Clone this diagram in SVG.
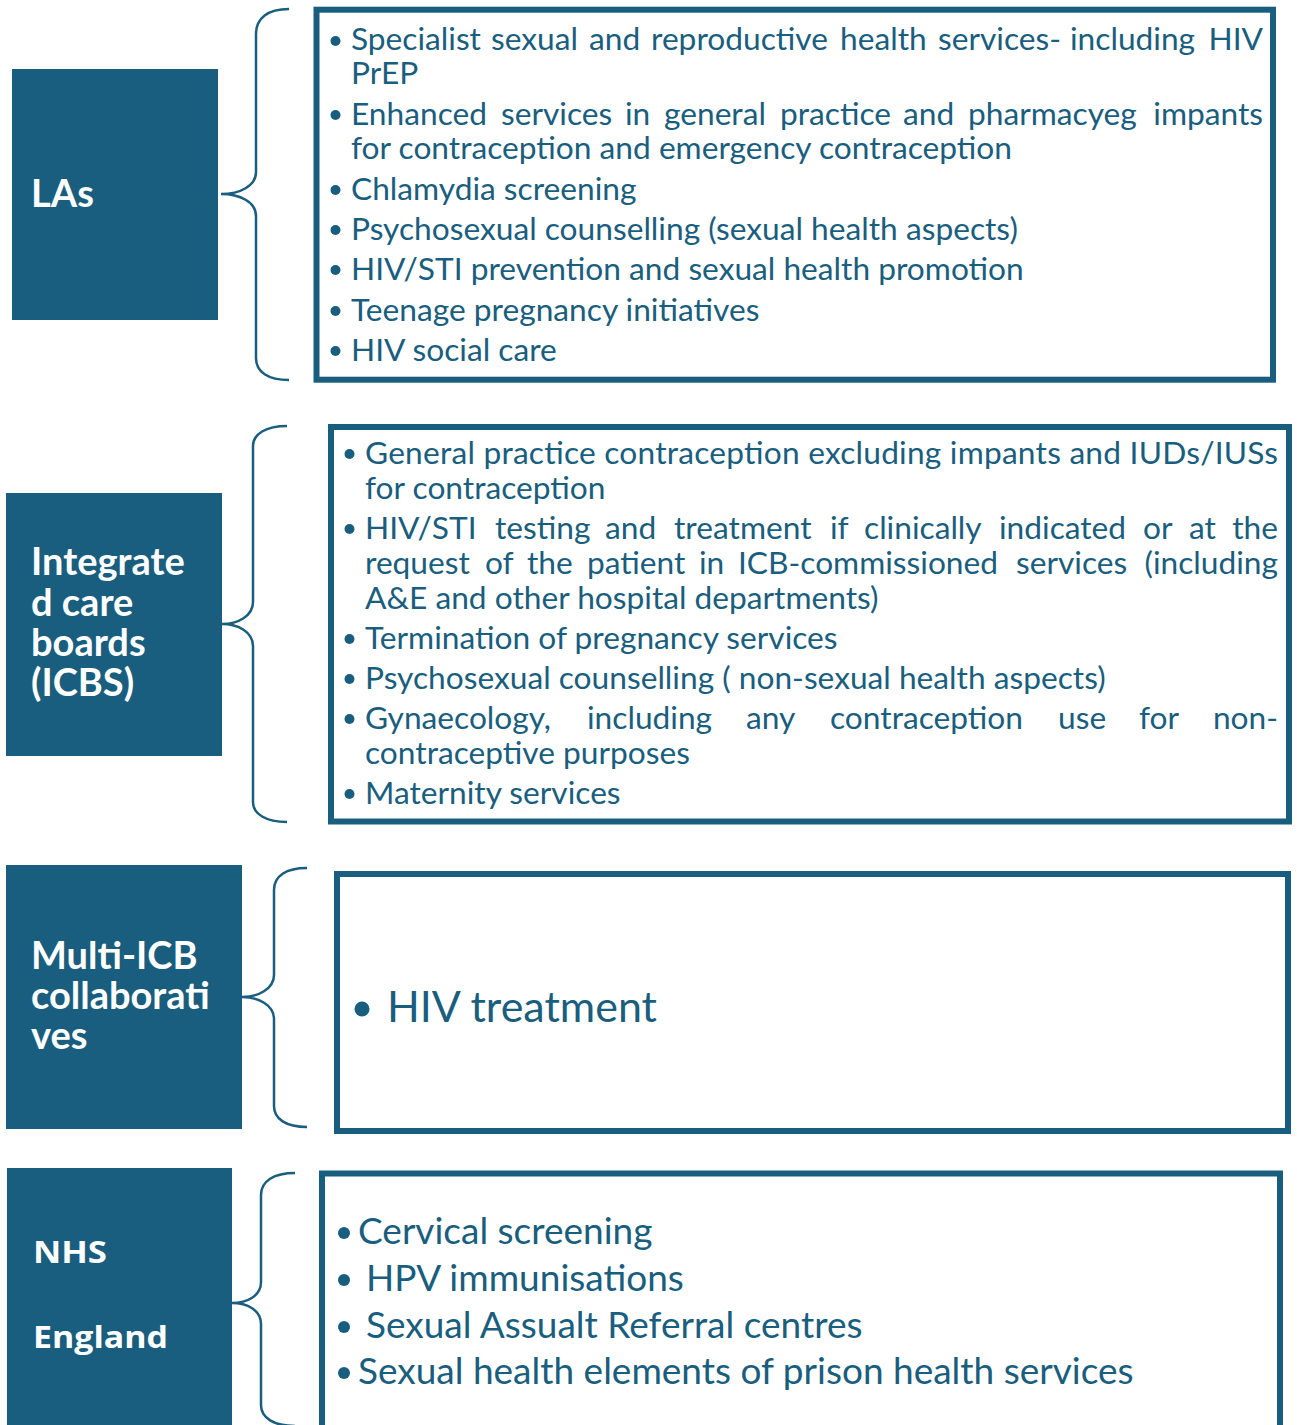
<svg xmlns="http://www.w3.org/2000/svg" width="1297" height="1425" viewBox="0 0 1297 1425">
  <style>
    .lbl { fill: #195e7e; }
    .lbl-t { fill: #ffffff; font-family: Lato, "Liberation Sans", sans-serif; font-weight: 700; font-size: 38px; }
    .nhs-t { fill: #ffffff; font-family: "Open Sans", "Liberation Sans", sans-serif; font-weight: 700; font-size: 30px; }
    .panel { fill: #ffffff; stroke: #195e7e; stroke-width: 6; }
    .item { fill: #195e7e; font-family: Lato, "Liberation Sans", sans-serif; font-size: 31.7px; }
    .big { font-size: 43px; }
    .mid { font-size: 37px; }
    .end { text-anchor: end; }
    .dot { fill: #195e7e; }
    .brace { fill: none; stroke: #195e7e; stroke-width: 2.5; }
  </style>
  <rect width="1297" height="1425" fill="#ffffff"/>

  <!-- braces joining each commissioner to its list -->
  <g id="connectors">
    <path class="brace" d="M289,9 C268,9 256,18 256,34 L256,172 C256,186 240,194 221,194 C240,194 256,202 256,216 L256,358 C256,372 268,380 289,380"/>
    <path class="brace" d="M287,426 C266,426 253,434 253,446 L253,602 C253,616 238,624 222,624 C238,624 253,632 253,646 L253,802 C253,814 266,822 287,822"/>
    <path class="brace" d="M307,868 C286,868 274,876 274,890 L274,975 C274,989 258,997 242,997 C258,997 274,1005 274,1019 L274,1106 C274,1119 286,1127 307,1127"/>
    <path class="brace" d="M295,1173 C274,1173 261,1181 261,1195 L261,1282 C261,1296 247,1303 232,1303 C247,1303 261,1310 261,1324 L261,1405 C261,1418 274,1426 295,1426"/>
  </g>

  <!-- Local authorities -->
  <g id="las">
    <rect class="lbl" x="12" y="69" width="206" height="251"/>
    <text class="lbl-t" x="31" y="207">LAs</text>
  </g>
  <g id="las-services">
    <rect class="panel" x="316.5" y="9.7" width="956.5" height="370"/>
    <g class="dot">
      <circle cx="335.5" cy="41" r="5"/>
      <circle cx="335.5" cy="115" r="5"/>
      <circle cx="335.5" cy="190" r="5"/>
      <circle cx="335.5" cy="230" r="5"/>
      <circle cx="335.5" cy="270" r="5"/>
      <circle cx="335.5" cy="311" r="5"/>
      <circle cx="335.5" cy="351" r="5"/>
    </g>
    <!-- justified lines: words placed one by one -->
    <text class="item" y="50"><tspan x="351">Specialist</tspan><tspan x="491">sexual</tspan><tspan x="589">and</tspan><tspan x="651">reproductive</tspan><tspan x="840">health</tspan><tspan x="938">services-</tspan><tspan x="1070">including</tspan></text>
    <text class="item end" x="1263" y="50">HIV</text>
    <text class="item" x="351" y="84">PrEP</text>
    <text class="item" y="125"><tspan x="351">Enhanced</tspan><tspan x="501">services</tspan><tspan x="625">in</tspan><tspan x="664">general</tspan><tspan x="780">practice</tspan><tspan x="903">and</tspan><tspan x="968">pharmacyeg</tspan></text>
    <text class="item end" x="1263" y="125">impants</text>
    <text class="item" x="351" y="159">for contraception and emergency contraception</text>
    <text class="item" x="351" y="200">Chlamydia screening</text>
    <text class="item" x="351" y="240">Psychosexual counselling (sexual health aspects)</text>
    <text class="item" x="351" y="280">HIV/STI prevention and sexual health promotion</text>
    <text class="item" x="351" y="321">Teenage pregnancy initiatives</text>
    <text class="item" x="351" y="361">HIV social care</text>
  </g>

  <!-- Integrated care boards -->
  <g id="icbs">
    <rect class="lbl" x="6" y="493" width="216" height="263"/>
    <text class="lbl-t"><tspan x="31" y="575">Integrate</tspan><tspan x="31" y="616">d care</tspan><tspan x="31" y="656">boards</tspan><tspan x="31" y="696">(ICBS)</tspan></text>
  </g>
  <g id="icbs-services">
    <rect class="panel" x="331" y="427" width="958" height="394.5"/>
    <g class="dot">
      <circle cx="349.5" cy="454" r="5"/>
      <circle cx="349.5" cy="529" r="5"/>
      <circle cx="349.5" cy="639" r="5"/>
      <circle cx="349.5" cy="679" r="5"/>
      <circle cx="349.5" cy="719" r="5"/>
      <circle cx="349.5" cy="794" r="5"/>
    </g>
    <text class="item" x="365" y="464" textLength="913" lengthAdjust="spacing">General practice contraception excluding impants and IUDs/IUSs</text>
    <text class="item" x="365" y="499">for contraception</text>
    <text class="item" y="539"><tspan x="365">HIV/STI</tspan><tspan x="495">testing</tspan><tspan x="605">and</tspan><tspan x="674">treatment</tspan><tspan x="830">if</tspan><tspan x="864">clinically</tspan><tspan x="999">indicated</tspan><tspan x="1143">or</tspan><tspan x="1189">at</tspan></text>
    <text class="item end" x="1278" y="539">the</text>
    <text class="item" y="574"><tspan x="365">request</tspan><tspan x="485">of</tspan><tspan x="527">the</tspan><tspan x="587">patient</tspan><tspan x="699">in</tspan><tspan x="738">ICB-commissioned</tspan><tspan x="1016">services</tspan></text>
    <text class="item end" x="1278" y="574">(including</text>
    <text class="item" x="365" y="609">A&amp;E and other hospital departments)</text>
    <text class="item" x="365" y="649">Termination of pregnancy services</text>
    <text class="item" x="365" y="689">Psychosexual counselling ( non-sexual health aspects)</text>
    <text class="item" y="729"><tspan x="365">Gynaecology,</tspan><tspan x="587">including</tspan><tspan x="746">any</tspan><tspan x="830">contraception</tspan><tspan x="1058">use</tspan><tspan x="1139">for</tspan></text>
    <text class="item end" x="1278" y="729">non-</text>
    <text class="item" x="365" y="764">contraceptive purposes</text>
    <text class="item" x="365" y="804">Maternity services</text>
  </g>

  <!-- Multi-ICB collaboratives -->
  <g id="multi-icb">
    <rect class="lbl" x="6" y="865" width="236" height="264"/>
    <text class="lbl-t"><tspan x="31" y="969">Multi-ICB</tspan><tspan x="31" y="1009">collaborati</tspan><tspan x="31" y="1049">ves</tspan></text>
  </g>
  <g id="multi-icb-services">
    <rect class="panel" x="337" y="874" width="951" height="257"/>
    <circle class="dot" cx="362" cy="1009" r="7.5"/>
    <text class="item big" x="387" y="1022">HIV treatment</text>
  </g>

  <!-- NHS England -->
  <g id="nhse">
    <rect class="lbl" x="7" y="1168" width="225" height="262"/>
    <text class="nhs-t" x="33" y="1263" textLength="74" lengthAdjust="spacingAndGlyphs">NHS</text>
    <text class="nhs-t" x="33" y="1348" textLength="135" lengthAdjust="spacingAndGlyphs">England</text>
  </g>
  <g id="nhse-services">
    <rect class="panel" x="322" y="1173.5" width="958" height="300"/>
    <g class="dot">
      <circle cx="344" cy="1233" r="6"/>
      <circle cx="344" cy="1280" r="6"/>
      <circle cx="344" cy="1327" r="6"/>
      <circle cx="344" cy="1373" r="6"/>
    </g>
    <text class="item mid" x="358" y="1244">Cervical screening</text>
    <text class="item mid" x="366" y="1291">HPV immunisations</text>
    <text class="item mid" x="366" y="1338">Sexual Assualt Referral centres</text>
    <text class="item mid" x="358" y="1384">Sexual health elements of prison health services</text>
  </g>
</svg>
